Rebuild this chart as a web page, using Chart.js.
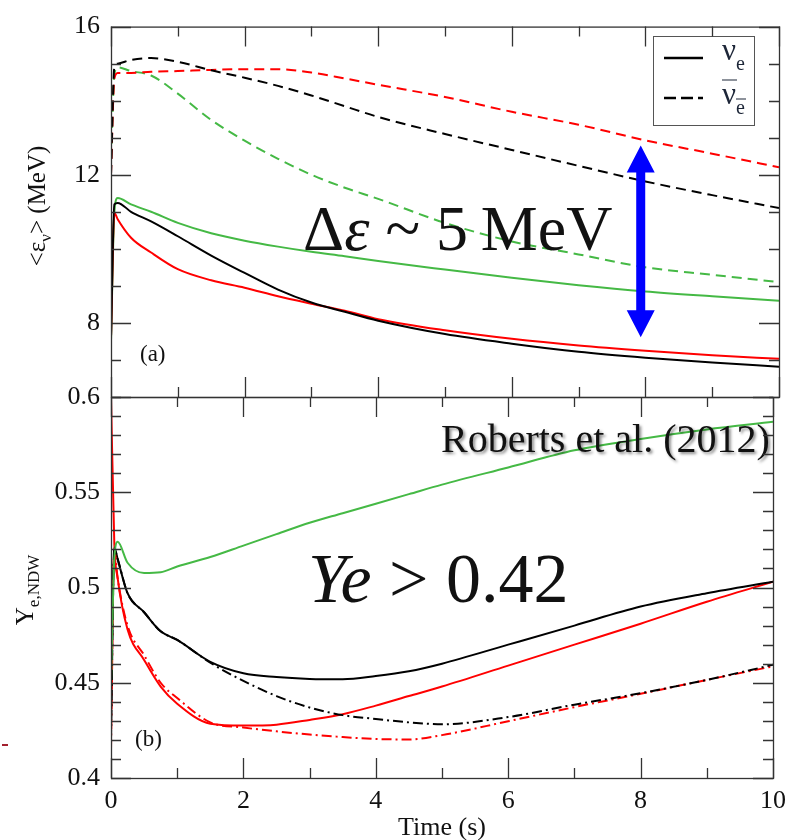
<!DOCTYPE html>
<html>
<head>
<meta charset="utf-8">
<script src="https://cdn.jsdelivr.net/npm/chart.js@4.4.1/dist/chart.umd.min.js"></script>
<style>
  html, body { margin: 0; padding: 0; background: #fff; }
  #wrap { position: relative; width: 794px; height: 840px; }
  #wrap canvas { position: absolute; left: 0; top: 0; }
  #mark { position: absolute; left: 2px; top: 744px; width: 6px; height: 2px; background: #a3202e; }
</style>
</head>
<body>
<div id="wrap">
  <canvas id="chartTop" width="794" height="840"></canvas>
  <canvas id="chartBottom" width="794" height="840"></canvas>
  <div id="mark"></div>
</div>
<script>
// panel (a): mean neutrino energies (MeV)
const timeTop = [0, 0.05, 0.1, 0.3, 0.6, 1, 1.5, 2, 2.5, 3, 3.5, 4, 5, 6, 7, 8, 9, 10];
const epsBlackNue    = [7.6, 11.2, 11.24, 11.0, 10.74, 10.34, 9.82, 9.35, 8.9, 8.55, 8.3, 8.06, 7.7, 7.44, 7.22, 7.06, 6.93, 6.82];
const epsRedNue      = [7.6, 10.97, 10.8, 10.3, 9.9, 9.45, 9.15, 8.95, 8.72, 8.52, 8.33, 8.1, 7.8, 7.57, 7.39, 7.25, 7.13, 7.03];
const epsGreenNue    = [7.5, 11.0, 11.37, 11.2, 11.0, 10.7, 10.42, 10.22, 10.06, 9.92, 9.8, 9.67, 9.44, 9.22, 9.02, 8.85, 8.72, 8.6];
const epsBlackNueBar = [12.0, 14.9, 15.0, 15.1, 15.15, 15.05, 14.82, 14.62, 14.4, 14.14, 13.85, 13.56, 13.1, 12.67, 12.24, 11.82, 11.45, 11.1];
const epsRedNueBar   = [12.0, 14.6, 14.75, 14.75, 14.78, 14.8, 14.83, 14.85, 14.85, 14.76, 14.6, 14.43, 14.1, 13.7, 13.35, 12.93, 12.57, 12.2];
const epsGreenNueBar = [12.4, 14.7, 14.9, 14.8, 14.68, 14.19, 13.48, 12.92, 12.43, 12.0, 11.65, 11.35, 10.7, 10.2, 9.85, 9.5, 9.3, 9.1];

// panel (b): Ye of the neutrino driven wind
const timeBottom = [0, 0.05, 0.1, 0.25, 0.5, 0.75, 1, 1.5, 2, 2.5, 3, 3.5, 4, 4.5, 5, 6, 7, 8, 9, 10];
const yeGreen    = [0.45, 0.515, 0.524, 0.513, 0.5076, 0.508, 0.511, 0.516, 0.522, 0.528, 0.534, 0.539, 0.544, 0.549, 0.554, 0.563, 0.572, 0.578, 0.583, 0.587];
const yeBlack    = [0.43, 0.521, 0.515, 0.497, 0.487, 0.477, 0.4725, 0.461, 0.455, 0.453, 0.452, 0.4518, 0.4535, 0.456, 0.46, 0.47, 0.48, 0.49, 0.497, 0.503];
const yeRed      = [0.6, 0.523, 0.505, 0.478, 0.462, 0.448, 0.439, 0.4285, 0.4275, 0.428, 0.4305, 0.4335, 0.438, 0.443, 0.448, 0.459, 0.47, 0.481, 0.4925, 0.503];
const yeBlackAlt = [0.42, 0.52, 0.515, 0.497, 0.487, 0.477, 0.4725, 0.4605, 0.451, 0.443, 0.437, 0.433, 0.431, 0.4292, 0.4282, 0.432, 0.4385, 0.4445, 0.4515, 0.4594];
const yeRedAlt   = [0.415, 0.52, 0.505, 0.48, 0.4645, 0.45, 0.442, 0.4292, 0.4265, 0.4245, 0.4228, 0.4215, 0.4205, 0.4202, 0.4225, 0.4298, 0.4372, 0.4442, 0.4515, 0.4586];

// axes
const xTicks = [0, 2, 4, 6, 8, 10];
const yTopTicks = [8, 12, 16];
const yBottomTicks = [0.4, 0.45, 0.5, 0.55, 0.6];

// blue double arrow (time, top MeV, bottom MeV)
const arrowT = 7.93;
const arrowTop = 12.79;
const arrowBottom = 7.61;

const SERIF = 'Liberation Serif';
const RED = '#ff0000';
const GREEN = '#45b945';
const BLACK = '#000000';
const TEXT = '#111111';

function pts(xs, ys) {
    return xs.map((x, i) => ({ x: x, y: ys[i] }));
}

function line(data, color, dash) {
    return {
        data: data,
        borderColor: color,
        borderWidth: 2,
        borderDash: dash || [],
        pointRadius: 0,
        fill: false,
        cubicInterpolationMode: 'monotone'
    };
}

// frame with inward ticks on all four sides
function drawFrame(chart, yMinor, yMajor) {
    const { ctx, chartArea: a, scales } = chart;
    const x = scales.x, y = scales.y;
    ctx.save();
    ctx.strokeStyle = '#333';
    ctx.lineWidth = 1.3;
    ctx.beginPath();
    for (let t = 0; t <= 10; t++) {
        const px = Math.round(x.getPixelForValue(t)) + 0.5;
        const len = t % 2 === 0 ? 20 : 10;
        ctx.moveTo(px, a.top); ctx.lineTo(px, a.top + len);
        ctx.moveTo(px, a.bottom); ctx.lineTo(px, a.bottom - len);
    }
    const n = Math.round((y.max - y.min) / yMinor);
    const ratio = Math.round(yMajor / yMinor);
    for (let i = 0; i <= n; i++) {
        const v = y.min + i * yMinor;
        const py = Math.round(y.getPixelForValue(v)) + 0.5;
        const len = Math.round(v / yMinor) % ratio === 0 ? 20 : 10;
        ctx.moveTo(a.left, py); ctx.lineTo(a.left + len, py);
        ctx.moveTo(a.right, py); ctx.lineTo(a.right - len, py);
    }
    ctx.stroke();
    ctx.strokeRect(a.left + 0.5, a.top + 0.5, a.right - a.left, a.bottom - a.top);
    ctx.restore();
}

// text pieces: [text, font, dy]
function drawPieces(ctx, x, y, pieces) {
    let cx = x;
    pieces.forEach(p => {
        ctx.font = p[1];
        ctx.fillText(p[0], cx, y + (p[2] || 0));
        cx += ctx.measureText(p[0]).width;
    });
    return cx;
}

function piecesWidth(ctx, pieces) {
    let w = 0;
    pieces.forEach(p => { ctx.font = p[1]; w += ctx.measureText(p[0]).width; });
    return w;
}

function drawVertical(ctx, cx, cy, pieces) {
    ctx.save();
    ctx.translate(cx, cy);
    ctx.rotate(-Math.PI / 2);
    ctx.textBaseline = 'alphabetic';
    const w = piecesWidth(ctx, pieces);
    drawPieces(ctx, -w / 2, 0, pieces);
    ctx.restore();
}

const topDecor = {
    id: 'topDecor',
    afterDatasetsDraw(chart) {
        const ctx = chart.ctx;
        const x = chart.scales.x, y = chart.scales.y;
        ctx.save();
        // blue arrow
        const ax = x.getPixelForValue(arrowT);
        const y1 = y.getPixelForValue(arrowTop);
        const y2 = y.getPixelForValue(arrowBottom);
        const head = 27, hw = 14, sw = 4.5;
        ctx.fillStyle = '#0000ff';
        ctx.beginPath();
        ctx.moveTo(ax, y1);
        ctx.lineTo(ax + hw, y1 + head);
        ctx.lineTo(ax + sw, y1 + head);
        ctx.lineTo(ax + sw, y2 - head);
        ctx.lineTo(ax + hw, y2 - head);
        ctx.lineTo(ax, y2);
        ctx.lineTo(ax - hw, y2 - head);
        ctx.lineTo(ax - sw, y2 - head);
        ctx.lineTo(ax - sw, y1 + head);
        ctx.lineTo(ax - hw, y1 + head);
        ctx.closePath();
        ctx.fill();

        ctx.fillStyle = TEXT;
        ctx.textBaseline = 'alphabetic';
        drawPieces(ctx, 303, 250, [
            ['\u0394', '64px ' + SERIF],
            ['\u03b5', 'italic 64px ' + SERIF],
            [' ~ 5\u2009MeV', '64px ' + SERIF]
        ]);
        ctx.font = '23px ' + SERIF;
        ctx.fillText('(a)', 140, 361);

        // legend
        ctx.strokeStyle = '#555';
        ctx.lineWidth = 1;
        ctx.strokeRect(653.5, 36.5, 101, 89);
        ctx.strokeStyle = BLACK;
        ctx.lineWidth = 2.5;
        ctx.beginPath(); ctx.moveTo(664, 58); ctx.lineTo(703, 58); ctx.stroke();
        ctx.setLineDash([12, 5, 12, 5, 6]);
        ctx.beginPath(); ctx.moveTo(664, 98); ctx.lineTo(703, 98); ctx.stroke();
        ctx.setLineDash([]);
        ctx.fillStyle = '#1d2638';
        drawPieces(ctx, 722, 60, [['\u03bd', '31px ' + SERIF], ['e', '20px ' + SERIF, 10]]);
        drawPieces(ctx, 722, 104, [['\u03bd', '31px ' + SERIF], ['e', '20px ' + SERIF, 10]]);
        ctx.strokeStyle = '#1d2638';
        ctx.lineWidth = 1.2;
        ctx.beginPath();
        ctx.moveTo(722, 80); ctx.lineTo(737, 80);
        ctx.moveTo(736, 99); ctx.lineTo(746, 99);
        ctx.stroke();

        // y title
        ctx.fillStyle = TEXT;
        drawVertical(ctx, 45, 206, [
            ['<\u03b5', '25px ' + SERIF],
            ['\u03bd', '17px ' + SERIF, 6],
            ['> (MeV)', '25px ' + SERIF]
        ]);
        ctx.restore();
    },
    afterDraw(chart) {
        drawFrame(chart, 1, 4);
    }
};

const bottomDecor = {
    id: 'bottomDecor',
    afterDatasetsDraw(chart) {
        const ctx = chart.ctx;
        ctx.save();
        ctx.fillStyle = TEXT;
        ctx.textBaseline = 'alphabetic';
        drawPieces(ctx, 308, 602, [
            ['Ye', 'italic 70px ' + SERIF],
            [' > 0.42', '70px ' + SERIF]
        ]);
        ctx.save();
        ctx.shadowColor = 'rgba(0,0,0,0.45)';
        ctx.shadowOffsetX = 2;
        ctx.shadowOffsetY = 2;
        ctx.shadowBlur = 3;
        ctx.font = '40px ' + SERIF;
        ctx.fillText('Roberts et al. (2012)', 441, 452);
        ctx.restore();
        ctx.font = '23px ' + SERIF;
        ctx.fillText('(b)', 135, 746);
        drawVertical(ctx, 33, 590, [
            ['Y', '25px ' + SERIF],
            ['e,NDW', '17px ' + SERIF, 6]
        ]);
        ctx.restore();
    },
    afterDraw(chart) {
        drawFrame(chart, 0.01, 0.05);
    }
};

const tickFont = { family: SERIF, size: 26 };

new Chart(document.getElementById('chartTop').getContext('2d'), {
    type: 'line',
    data: {
        datasets: [
            line(pts(timeTop, epsBlackNue), BLACK),
            line(pts(timeTop, epsRedNue), RED),
            line(pts(timeTop, epsGreenNue), GREEN),
            line(pts(timeTop, epsBlackNueBar), BLACK, [10, 6]),
            line(pts(timeTop, epsRedNueBar), RED, [10, 6]),
            line(pts(timeTop, epsGreenNueBar), GREEN, [10, 6])
        ]
    },
    options: {
        responsive: false,
        animation: false,
        layout: { padding: { left: 0, right: 15, top: 16, bottom: 443 } },
        plugins: { legend: { display: false }, tooltip: { enabled: false } },
        scales: {
            x: { type: 'linear', min: 0, max: 10, display: false },
            y: {
                type: 'linear', min: 6, max: 16,
                grid: { display: false, drawTicks: false },
                border: { display: false },
                afterBuildTicks: s => { s.ticks = yTopTicks.map(v => ({ value: v })); },
                afterFit: s => { s.width = 111; },
                ticks: { font: tickFont, color: TEXT, padding: 11 }
            }
        }
    },
    plugins: [topDecor]
});

new Chart(document.getElementById('chartBottom').getContext('2d'), {
    type: 'line',
    data: {
        datasets: [
            line(pts(timeBottom, yeGreen), GREEN),
            line(pts(timeBottom, yeBlackAlt), BLACK, [10, 4, 2, 4]),
            line(pts(timeBottom, yeRedAlt), RED, [10, 4, 2, 4]),
            line(pts(timeBottom, yeBlack), BLACK),
            line(pts(timeBottom, yeRed), RED)
        ]
    },
    options: {
        responsive: false,
        animation: false,
        layout: { padding: { left: 0, right: 15, top: 397, bottom: 0 } },
        plugins: { legend: { display: false }, tooltip: { enabled: false } },
        scales: {
            x: {
                type: 'linear', min: 0, max: 10,
                grid: { display: false, drawTicks: false },
                border: { display: false },
                afterBuildTicks: s => { s.ticks = xTicks.map(v => ({ value: v })); },
                afterFit: s => { s.height = 62; },
                ticks: { font: tickFont, color: TEXT, padding: 8, autoSkip: false, maxRotation: 0 },
                title: {
                    display: true, text: 'Time (s)', color: TEXT,
                    font: { family: SERIF, size: 26, lineHeight: 1 },
                    padding: { top: 0, bottom: -1 }
                }
            },
            y: {
                type: 'linear', min: 0.4, max: 0.6,
                grid: { display: false, drawTicks: false },
                border: { display: false },
                afterBuildTicks: s => { s.ticks = yBottomTicks.map(v => ({ value: v })); },
                afterFit: s => { s.width = 111; },
                ticks: { font: tickFont, color: TEXT, padding: 11, callback: v => String(v) }
            }
        }
    },
    plugins: [bottomDecor]
});
</script>
</body>
</html>
